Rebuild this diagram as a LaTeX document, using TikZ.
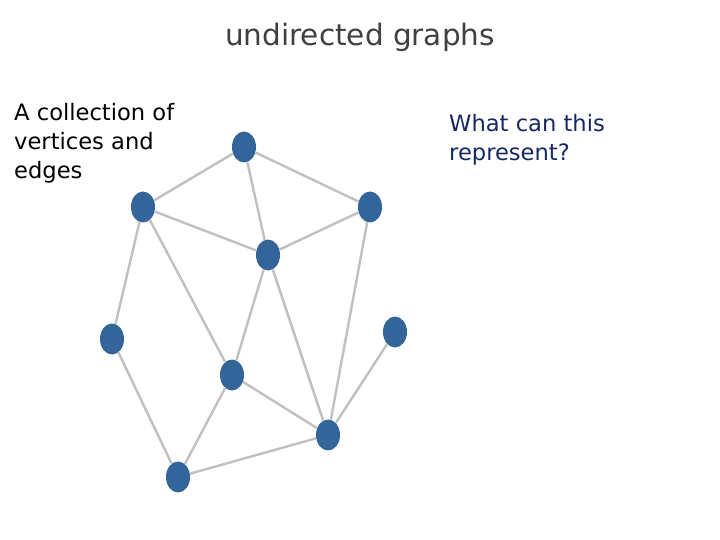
\documentclass[tikz,border=0pt]{standalone}
\usepackage{fontspec}
\setmainfont{DejaVu Sans}
\usepackage{xcolor}
\usetikzlibrary{shapes}

\definecolor{vertexblue}{RGB}{52,101,154}
\definecolor{edgegray}{RGB}{192,192,192}
\definecolor{titlegray}{RGB}{64,64,64}
\definecolor{asknavy}{RGB}{22,40,100}

\tikzset{
  vertex/.style={ellipse,fill=vertexblue,draw=none,minimum width=24,minimum height=31,inner sep=0pt},
  edge/.style={draw=edgegray,line width=2.4}
}

\begin{document}
\begin{tikzpicture}[x=1pt,y=1pt,yscale=-1,xscale=1]
%set diagram left start at 0, and has height of 540
\useasboundingbox (0,0) rectangle (720,540);

%Vertices
\node[vertex] (top) at (244,147) {};
\node[vertex] (upleft) at (143,207) {};
\node[vertex] (upright) at (370,207) {};
\node[vertex] (hub) at (268,255) {};
\node[vertex] (farleft) at (112,339) {};
\node[vertex] (lone) at (395,332) {};
\node[vertex] (mid) at (232,375) {};
\node[vertex] (lowright) at (328,435) {};
\node[vertex] (bottom) at (178,477) {};

%Edges
\draw[edge] (top) -- (upleft);
\draw[edge] (top) -- (upright);
\draw[edge] (top) -- (hub);
\draw[edge] (upleft) -- (hub);
\draw[edge] (upright) -- (hub);
\draw[edge] (upleft) -- (farleft);
\draw[edge] (upleft) -- (mid);
\draw[edge] (hub) -- (mid);
\draw[edge] (hub) -- (lowright);
\draw[edge] (upright) -- (lowright);
\draw[edge] (lone) -- (lowright);
\draw[edge] (mid) -- (lowright);
\draw[edge] (mid) -- (bottom);
\draw[edge] (farleft) -- (bottom);
\draw[edge] (bottom) -- (lowright);

% Text Node
\node[anchor=center,text=titlegray,font=\fontsize{29.5}{34}\selectfont] (title) at (360,37) {undirected graphs};
% Text Node
\node[anchor=north west,inner sep=0pt,align=left,font=\fontsize{22.6}{29}\selectfont] (def) at (14,103) {A collection of\\vertices and\\edges};
% Text Node
\node[anchor=north west,inner sep=0pt,align=left,text=asknavy,font=\fontsize{22.6}{29}\selectfont] (ask) at (449,114) {What can this\\represent?};

\end{tikzpicture}
\end{document}
